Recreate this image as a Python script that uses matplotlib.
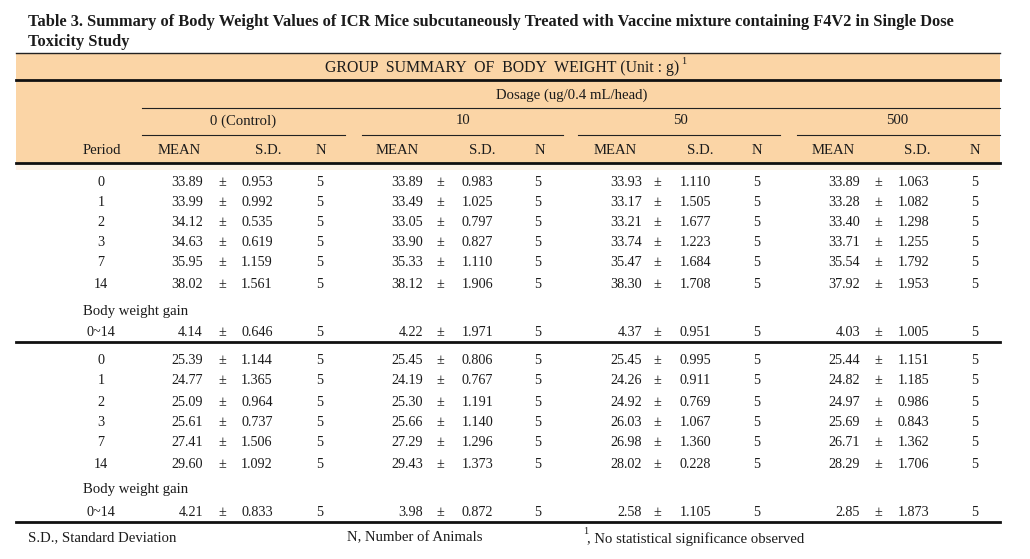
import matplotlib
matplotlib.use('Agg')
import matplotlib.pyplot as plt
from matplotlib.patches import Rectangle

# ---------------- data ----------------
title_lines = [
    "Table 3. Summary of Body Weight Values of ICR Mice subcutaneously Treated with Vaccine mixture containing F4V2 in Single Dose",
    "Toxicity Study",
]
header_title = "GROUP  SUMMARY  OF  BODY  WEIGHT (Unit : g)"
header_sup = "1"
dosage_label = "Dosage (ug/0.4 mL/head)"
groups = ["0 (Control)", "10", "50", "500"]
col_labels = ["MEAN", "S.D.", "N"]
period_label = "Period"
periods = ["0", "1", "2", "3", "7", "14"]
gain_label = "Body weight gain"
gain_period = "0~14"
n_animals = [5, 5, 5, 5]

# block 1 (per dose group, per period)
b1_mean = [
    [33.89, 33.99, 34.12, 34.63, 35.95, 38.02],
    [33.89, 33.49, 33.05, 33.90, 35.33, 38.12],
    [33.93, 33.17, 33.21, 33.74, 35.47, 38.30],
    [33.89, 33.28, 33.40, 33.71, 35.54, 37.92],
]
b1_sd = [
    [0.953, 0.992, 0.535, 0.619, 1.159, 1.561],
    [0.983, 1.025, 0.797, 0.827, 1.110, 1.906],
    [1.110, 1.505, 1.677, 1.223, 1.684, 1.708],
    [1.063, 1.082, 1.298, 1.255, 1.792, 1.953],
]
b1_gain_mean = [4.14, 4.22, 4.37, 4.03]
b1_gain_sd = [0.646, 1.971, 0.951, 1.005]

# block 2
b2_mean = [
    [25.39, 24.77, 25.09, 25.61, 27.41, 29.60],
    [25.45, 24.19, 25.30, 25.66, 27.29, 29.43],
    [25.45, 24.26, 24.92, 26.03, 26.98, 28.02],
    [25.44, 24.82, 24.97, 25.69, 26.71, 28.29],
]
b2_sd = [
    [1.144, 1.365, 0.964, 0.737, 1.506, 1.092],
    [0.806, 0.767, 1.191, 1.140, 1.296, 1.373],
    [0.995, 0.911, 0.769, 1.067, 1.360, 0.228],
    [1.151, 1.185, 0.986, 0.843, 1.362, 1.706],
]
b2_gain_mean = [4.21, 3.98, 2.58, 2.85]
b2_gain_sd = [0.833, 0.872, 1.105, 1.873]

footnotes = ["S.D., Standard Deviation", "N, Number of Animals", ", No statistical significance observed"]
footnote_sup = "1"

# ---------------- layout ----------------
W, H = 1030, 559
FONT = "Liberation Serif"
TXT = "#1b1b1b"
FS = 10.2
HFS = 10.6
ORANGE = "#FBD5A6"

fig = plt.figure(figsize=(W / 100, H / 100), dpi=100)
ax = fig.add_axes([0, 0, 1, 1])
ax.set_xlim(0, W)
ax.set_ylim(H, 0)
ax.axis("off")

L, R = 16, 1000

def txt(x, y, s, ha="center", size=FS, weight="normal", va="center"):
    return ax.text(x, y, s, ha=ha, va=va, fontsize=size, fontfamily=FONT,
                   fontweight=weight, color=TXT)

# header fill
ax.add_patch(Rectangle((L, 53), R - L, 110, facecolor=ORANGE, edgecolor="none", zorder=0))
ax.add_patch(Rectangle((L, 163), R - L, 7, facecolor="#FEF2E6", edgecolor="none", zorder=0))

# title
fig.canvas.draw()
renderer = fig.canvas.get_renderer()
t1 = txt(28, 22, title_lines[0], ha="left", size=11, weight="bold")
ext = t1.get_window_extent(renderer)
t1.set_fontsize(11 * (952 - 28) / ext.width)
txt(28, 42, title_lines[1], ha="left", size=t1.get_fontsize(), weight="bold")

# rules
ax.plot([L, R], [53, 53], color="#222", lw=1.0)
for yy in (80, 163, 342, 522):
    ax.plot([L, R], [yy, yy], color="#111", lw=2.0)
ax.plot([142, R], [108, 108], color="#222", lw=0.8)
segments = [(142, 345), (362, 563), (578, 780), (797, R)]
for a, b in segments:
    ax.plot([a, b], [135, 135], color="#222", lw=0.8)

# header texts
gt = txt(325, 68, header_title, ha="left", size=11.4)
ge = gt.get_window_extent(renderer)
ax.text(325 + ge.width + 2, 62, header_sup, ha="left", va="center", fontsize=7.5,
        fontfamily=FONT, color=TXT)
txt(572, 95, dosage_label, size=HFS)
group_x = [243, 463, 680, 897]
for gx, g in zip(group_x, groups):
    txt(gx, 121, g, size=HFS)
txt(102, 150, period_label, size=HFS)
mean_hx = [179, 397, 615, 833]
sd_hx = [268, 482, 700, 917]
n_hx = [321, 540, 757, 975]
for i in range(4):
    txt(mean_hx[i], 150, col_labels[0], size=HFS)
    txt(sd_hx[i], 150, col_labels[1], size=HFS)
    txt(n_hx[i], 150, col_labels[2], size=HFS)

# data columns
mean_right = [203, 423, 642, 860]
pm_x = [222, 440, 657, 878]
sd_left = [241, 462, 680, 898]
n_x = [320, 538, 757, 975]
period_x = 101

def draw_row(y, label, means, sds, label_ha="center", label_x=period_x):
    txt(label_x, y, label, ha=label_ha)
    for i in range(4):
        txt(mean_right[i], y, f"{means[i]:.2f}", ha="right")
        txt(pm_x[i], y, "\u00b1")
        txt(sd_left[i], y, f"{sds[i]:.3f}", ha="left")
        txt(n_x[i], y, str(n_animals[i]))

def draw_block(row_ys, gain_label_y, gain_y, means, sds, gmeans, gsds):
    for r, p in enumerate(periods):
        draw_row(row_ys[r], p, [means[g][r] for g in range(4)], [sds[g][r] for g in range(4)])
    txt(83, gain_label_y, gain_label, ha="left", size=HFS)
    draw_row(gain_y, gain_period, gmeans, gsds)

draw_block([182, 202, 222, 243, 263, 284], 312, 332, b1_mean, b1_sd, b1_gain_mean, b1_gain_sd)
draw_block([361, 381, 402, 422, 442, 464], 490, 512, b2_mean, b2_sd, b2_gain_mean, b2_gain_sd)

# footnotes
txt(28, 538, footnotes[0], ha="left", size=HFS)
txt(347, 538, footnotes[1], ha="left", size=HFS)
ax.text(583, 531, footnote_sup, ha="left", va="center", fontsize=7.5, fontfamily=FONT, color=TXT)
txt(587, 539, footnotes[2], ha="left", size=HFS)

fig.savefig("out.png", dpi=100)
